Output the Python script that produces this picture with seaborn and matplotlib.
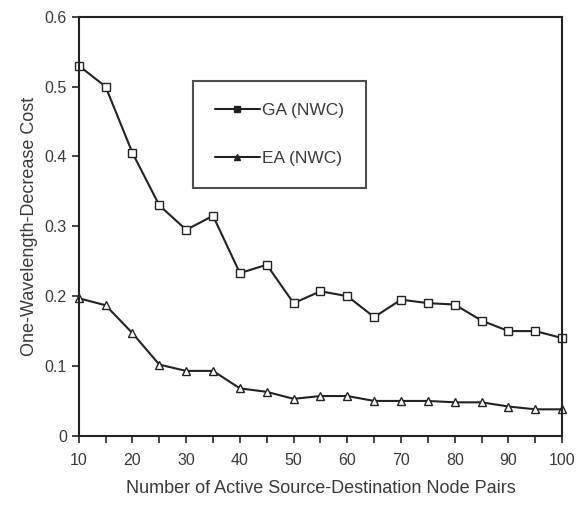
"""
One-wavelength-decrease cost vs number of active node pairs
"""
import pandas as pd
import matplotlib.pyplot as plt
import seaborn as sns
from matplotlib.lines import Line2D

node_pairs = [10, 15, 20, 25, 30, 35, 40, 45, 50, 55, 60, 65, 70, 75, 80, 85, 90, 95, 100]
ga_cost = [0.53, 0.50, 0.405, 0.33, 0.295, 0.315, 0.233, 0.245, 0.19, 0.207,
           0.20, 0.17, 0.195, 0.19, 0.188, 0.165, 0.15, 0.15, 0.14]
ea_cost = [0.197, 0.187, 0.147, 0.102, 0.093, 0.093, 0.068, 0.063, 0.053, 0.057,
           0.057, 0.050, 0.050, 0.050, 0.048, 0.048, 0.042, 0.038, 0.038]
series_names = ['GA (NWC)', 'EA (NWC)']

df = pd.concat([
    pd.DataFrame({'pairs': node_pairs, 'cost': ga_cost, 'method': series_names[0]}),
    pd.DataFrame({'pairs': node_pairs, 'cost': ea_cost, 'method': series_names[1]}),
])

sns.set_style("ticks")
plt.rcParams['font.family'] = ['Liberation Sans', 'DejaVu Sans']
text_col = '#3a3a3a'

fig = plt.figure(figsize=(5.79, 5.08), dpi=100)
ax = fig.add_axes([0.136, 0.142, 0.835, 0.825])

sns.lineplot(data=df, x='pairs', y='cost', hue='method', style='method',
             markers={'GA (NWC)': 's', 'EA (NWC)': '^'}, dashes=False,
             palette={'GA (NWC)': '#222222', 'EA (NWC)': '#222222'},
             markersize=5.5, markerfacecolor='white', markeredgecolor='#222222',
             markeredgewidth=1.0, linewidth=1.5, legend=False, clip_on=False, ax=ax)

ax.set_xlim(10, 100)
ax.set_ylim(0, 0.6)
ax.set_xticks(range(10, 101, 10))
ax.set_xticks(range(10, 101, 5), minor=True)
ax.set_yticks([0, 0.1, 0.2, 0.3, 0.4, 0.5, 0.6])
ax.set_yticklabels(['0', '0.1', '0.2', '0.3', '0.4', '0.5', '0.6'])
ax.tick_params(axis='both', which='major', labelsize=11.5, length=5, width=1.2,
               direction='out', labelcolor=text_col)
ax.tick_params(axis='x', which='major', pad=7)
ax.tick_params(axis='x', which='minor', length=5, width=1.2, direction='out')
for s in ax.spines.values():
    s.set_linewidth(1.5)
    s.set_color('#222222')

ax.set_xlabel('Number of Active Source-Destination Node Pairs', fontsize=13,
              labelpad=9, color=text_col)
ax.set_ylabel('One-Wavelength-Decrease Cost', fontsize=13, labelpad=5, color=text_col)

handles = [Line2D([], [], color='#222222', marker='s', markersize=4, linewidth=1.5),
           Line2D([], [], color='#222222', marker='^', markersize=4, linewidth=1.5)]
leg = ax.legend(handles, series_names, loc='upper left', bbox_to_anchor=(0.236, 0.847),
                frameon=True, fancybox=False, edgecolor='#222222', fontsize=12.5,
                handlelength=2.6, handletextpad=0.15, labelspacing=1.9, borderpad=1.25,
                borderaxespad=0, labelcolor=text_col)
leg.get_frame().set_linewidth(1.5)

fig.savefig('out.png', dpi=100)
